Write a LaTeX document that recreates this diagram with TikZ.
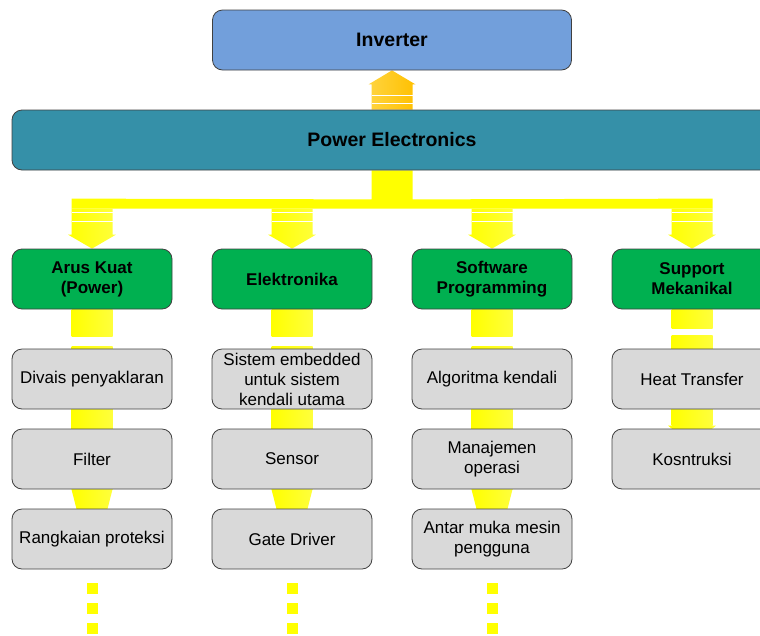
\documentclass[tikz,border=0pt]{standalone}
\usepackage{fontspec}
\setmainfont{Liberation Sans}
\usetikzlibrary{calc,backgrounds}

\definecolor{invblue}{HTML}{729FDB}
\definecolor{peteal}{HTML}{3590A8}
\definecolor{boxgreen}{HTML}{00B050}
\definecolor{boxgrey}{HTML}{D9D9D9}
\definecolor{edgegrey}{HTML}{404040}
\definecolor{busyellow}{HTML}{FFFF00}
\definecolor{busyellowr}{HTML}{FFFF3C}
\definecolor{uporange}{HTML}{FFD43F}
\definecolor{uporanger}{HTML}{FFC000}

\tikzset{
  box/.style={draw=edgegrey, line width=0.8pt, rounded corners=10pt,
    minimum width=160pt, minimum height=60pt, align=center, inner sep=1pt,
    font=\fontsize{17}{20}\selectfont},
  topbox/.style={box, font=\bfseries\fontsize{19.5}{22}\selectfont},
  greybox/.style={box, fill=boxgrey},
  greenbox/.style={box, fill=boxgreen, font=\bfseries\fontsize{17}{20}\selectfont},
  bus/.style={left color=busyellow, right color=busyellowr, draw=none},
  uparrow/.style={left color=uporange, right color=uporanger, draw=none},
  gapline/.style={draw=white, line width=1.5pt},
  dotbox/.style={fill=busyellow, draw=none},
}

\begin{document}
\begin{tikzpicture}[x=1pt, y=-1pt]
\useasboundingbox (0,0) rectangle (760,635);
\clip (0,0) rectangle (760,635);

% top level
\node[topbox, fill=invblue, minimum width=359pt] (inv) at (392,40) {Inverter};
\node[topbox, fill=peteal, minimum width=760pt] (pe) at (392,140) {Power Electronics};

% green heads
\node[greenbox] (arus) at (92,279) {Arus Kuat\\(Power)};
\node[greenbox] (elek) at (292,279) {Elektronika};
\node[greenbox] (soft) at (492,279) {Software\\Programming};
\node[greenbox] (supp) at (692,279) {Support\\Mekanikal};

% grey items
\node[greybox] (div) at (92,379) {Divais penyaklaran};
\node[greybox] (fil) at (92,459) {Filter};
\node[greybox] (rang) at (92,539) {Rangkaian proteksi};
\node[greybox] (sis) at (292,379) {Sistem embedded\\untuk sistem\\kendali utama};
\node[greybox] (sen) at (292,459) {Sensor};
\node[greybox] (gate) at (292,539) {Gate Driver};
\node[greybox] (algo) at (492,379) {Algoritma kendali};
\node[greybox] (mana) at (492,459) {Manajemen\\operasi};
\node[greybox] (antar) at (492,539) {Antar muka mesin\\pengguna};
\node[greybox] (heat) at (692,379) {Heat Transfer};
\node[greybox] (kons) at (692,459) {Kosntruksi};

\begin{scope}[on background layer]
% arrow up to the inverter
\path[uparrow] ($(pe.north)+(-20.5,0)$) -- ($(inv.south)+(-20.5,14)$)
  -- ($(inv.south)+(-23.5,14)$) -- (inv.south) -- ($(inv.south)+(23.5,14)$)
  -- ($(inv.south)+(20.5,14)$) -- ($(pe.north)+(20.5,0)$) -- cycle;
\draw[gapline] ($(pe.north)+(-20.5,-6)$) -- ++(41,0);
\draw[gapline] ($(pe.north)+(-20.5,-14)$) -- ++(41,0);

% bus from power electronics
\fill[busyellow] ($(pe.south)+(-20.5,0)$) -- ($(pe.south)+(-20.5,29)$)
  -- ($(arus.north)+(-20.5,-50)$) -- ($(arus.north)+(-20.5,-40)$)
  -- ($(supp.north)+(20.5,-40)$) -- ($(supp.north)+(20.5,-50)$)
  -- ($(pe.south)+(20.5,29)$) -- ($(pe.south)+(20.5,0)$) -- cycle;
\foreach \g in {arus,elek,soft,supp} {
  \path[bus] ($(\g.north)+(-20.5,-40)$) -- ($(\g.north)+(-20.5,-14)$)
    -- ($(\g.north)+(-24,-14)$) -- (\g.north) -- ($(\g.north)+(24,-14)$)
    -- ($(\g.north)+(20.5,-14)$) -- ($(\g.north)+(20.5,-40)$) -- cycle;
  \draw[gapline] ($(\g.north)+(-20.5,-36)$) -- ++(41,0);
  \draw[gapline] ($(\g.north)+(-20.5,-27)$) -- ++(41,0);
}

% columns with three items
\foreach \g/\a/\b/\c in {arus/div/fil/rang, elek/sis/sen/gate, soft/algo/mana/antar} {
  \path[bus] ($(\g.south)+(-20.5,0)$) rectangle ($(\g.south)+(20.5,27)$);
  \path[bus] ($(\a.north)+(-20.5,-2)$) rectangle ($(\b.south)+(20.5,0)$);
  \path[bus] ($(\b.south)+(-20.5,0)$) -- ($(\b.south)+(20.5,0)$) -- (\c.south) -- cycle;
  \foreach \d in {14,34,54}
    \path[dotbox] ($(\c.south)+(-5.5,\d)$) rectangle ++(11,11);
}

% mechanical column
\path[bus] ($(supp.south)+(-20.5,0)$) rectangle ($(supp.south)+(20.5,19)$);
\path[bus] ($(heat.north)+(-20.5,-13)$) rectangle ($(kons.north)+(20.5,-3)$);
\path[bus] ($(kons.north)+(-24,-3)$) -- ($(kons.north)+(24,-3)$) -- ($(kons.north)+(0,16)$) -- cycle;
\end{scope}
\end{tikzpicture}
\end{document}
